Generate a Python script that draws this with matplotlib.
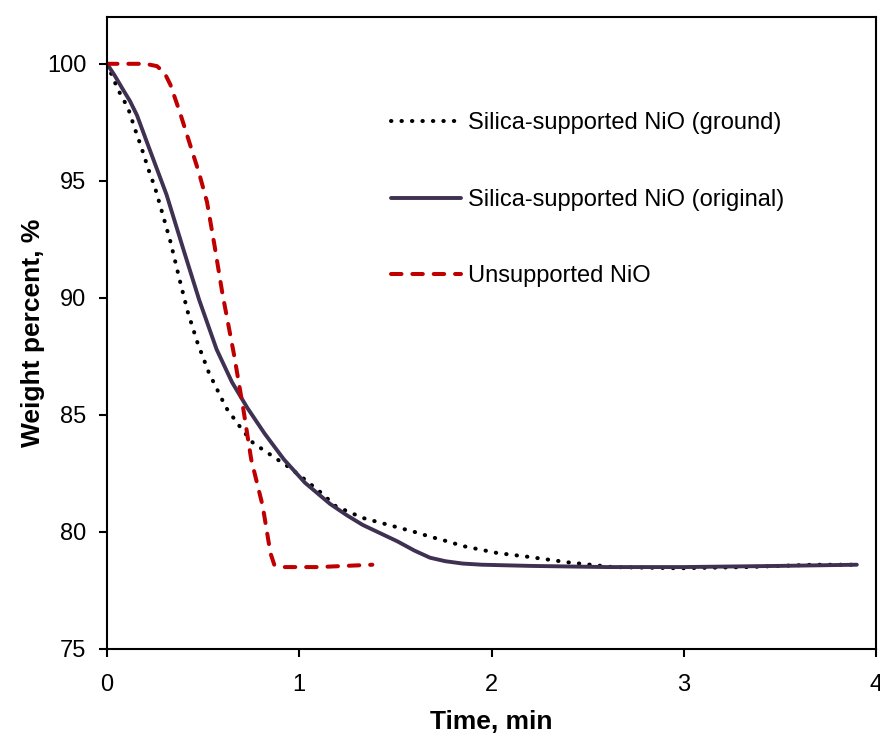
import numpy as np
import matplotlib
matplotlib.use('Agg')
from matplotlib import pyplot as plt

plt.rcParams['font.family'] = ['Liberation Sans', 'DejaVu Sans']

# silica-supported NiO (ground)
t_ground = [0, 0.057, 0.11, 0.146, 0.18, 0.215, 0.25, 0.285, 0.33, 0.38, 0.42, 0.47, 0.53,
            0.62, 0.70, 0.76, 0.85, 0.94, 1.02, 1.11, 1.19, 1.26, 1.33, 1.42, 1.51, 1.60,
            1.68, 1.77, 1.85, 1.94, 2.03, 2.18, 2.4, 2.63, 2.98, 3.33, 3.67, 3.9]
w_ground = [100, 98.9, 98.1, 97.2, 96.4, 95.5, 94.7, 93.7, 92.4, 90.7, 89.4, 88.1, 86.8,
            85.3, 84.4, 83.8, 83.3, 82.8, 82.3, 81.7, 81.1, 80.85, 80.6, 80.4, 80.2, 80.0,
            79.8, 79.6, 79.4, 79.25, 79.1, 78.95, 78.7, 78.5, 78.45, 78.5, 78.6, 78.6]

# silica-supported NiO (original)
t_orig = [0, 0.04, 0.083, 0.12, 0.156, 0.21, 0.26, 0.31, 0.34, 0.40, 0.48, 0.57, 0.65, 0.73,
          0.82, 0.92, 1.03, 1.16, 1.25, 1.33, 1.42, 1.51, 1.60, 1.68, 1.76, 1.85, 1.95,
          2.2, 2.6, 3.0, 3.5, 3.9]
w_orig = [100, 99.5, 98.9, 98.4, 97.8, 96.6, 95.5, 94.4, 93.6, 92.0, 89.9, 87.8, 86.4, 85.3,
          84.2, 83.1, 82.1, 81.2, 80.7, 80.3, 79.95, 79.6, 79.2, 78.9, 78.75, 78.65, 78.6,
          78.55, 78.5, 78.5, 78.55, 78.6]

# unsupported NiO
t_unsup = [0, 0.10, 0.20, 0.26, 0.30, 0.33, 0.38, 0.43, 0.48, 0.52, 0.56, 0.60, 0.66, 0.71,
           0.75, 0.81, 0.85, 0.87, 0.92, 1.1, 1.38]
w_unsup = [100, 100, 100, 99.9, 99.6, 99.1, 97.9, 96.6, 95.3, 94.1, 92.2, 90.2, 87.6, 85.2,
           83.1, 81.1, 79.1, 78.6, 78.5, 78.5, 78.6]

labels = ['Silica-supported NiO (ground)', 'Silica-supported NiO (original)', 'Unsupported NiO']

fig = plt.figure(figsize=(8.8, 7.39), dpi=100)
ax = fig.add_axes([0.1216, 0.1218, 0.8739, 0.8552])

ax.plot(t_ground, w_ground, color='black', lw=2.9, linestyle=(0, (0.1, 2.5)),
        dash_capstyle='round', label=labels[0])
ax.plot(t_orig, w_orig, color='#3f3151', lw=2.8, solid_capstyle='round',
        solid_joinstyle='round', label=labels[1])
ax.plot(t_unsup, w_unsup, color='#c00000', lw=2.9, linestyle=(0, (2.6, 2.7)),
        dash_capstyle='round', label=labels[2])

ax.set_xlim(0, 4)
ax.set_ylim(75, 102)
ax.set_xticks([0, 1, 2, 3, 4])
ax.set_yticks([75, 80, 85, 90, 95, 100])
ax.tick_params(direction='out', length=6, width=1.5, labelsize=17, pad=9,
               top=False, right=False)
ax.tick_params(axis='x', pad=12)
for s in ax.spines.values():
    s.set_linewidth(1.5)

ax.set_xlabel('Time, min', fontsize=19, fontweight='bold', labelpad=10)
ax.set_ylabel('Weight percent, %', fontsize=19, fontweight='bold', labelpad=1)

fig.legend(loc='upper left', bbox_to_anchor=(0.4445, 0.848), frameon=False, fontsize=17,
           handlelength=2.97, handletextpad=0.3, labelspacing=2.31, borderpad=0,
           borderaxespad=0)

fig.savefig('out.png', dpi=100)
